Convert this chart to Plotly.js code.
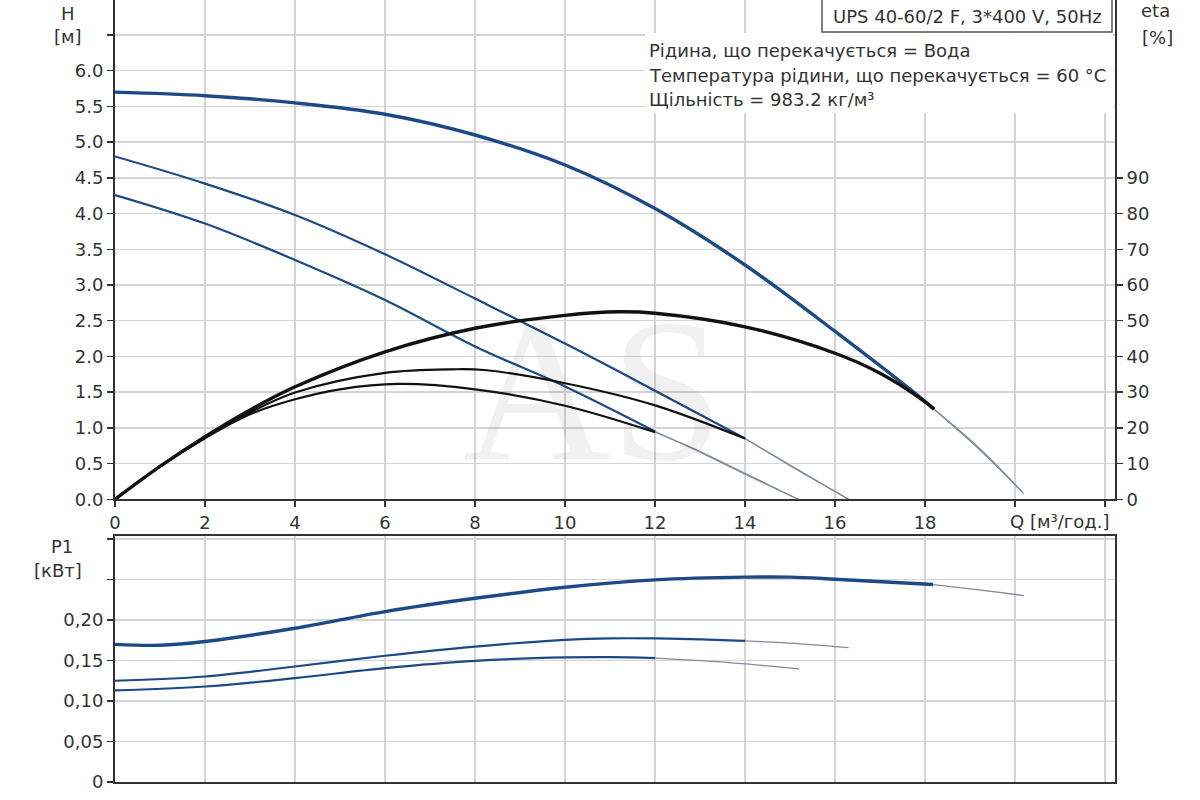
<!DOCTYPE html>
<html><head><meta charset="utf-8">
<script src="https://cdn.plot.ly/plotly-3.0.1.min.js"></script>
<style>html,body{margin:0;padding:0;background:#fff}#chart{width:1200px;height:800px}</style>
</head><body><div id="chart"></div>
<script>
// ---- Head curves H [м] vs Q [м³/год.] ----
const q_h1 = [0, 2, 4, 6, 8, 10, 12, 14, 16, 18, 18.2];
const h1   = [5.70, 5.65, 5.55, 5.39, 5.10, 4.68, 4.07, 3.28, 2.35, 1.37, 1.26];
const q_h1x = [18.2, 19.2, 20.19];
const h1x   = [1.26, 0.70, 0.08];

const q_h2 = [0, 2, 4, 6, 8, 10, 12, 14];
const h2   = [4.80, 4.42, 3.98, 3.43, 2.81, 2.18, 1.52, 0.85];
const q_h2x = [14, 15, 16.3];
const h2x   = [0.85, 0.47, 0];

const q_h3 = [0, 2, 4, 6, 8, 10, 12];
const h3   = [4.26, 3.86, 3.35, 2.79, 2.14, 1.58, 0.95];
const q_h3x = [12, 13, 14, 15.18];
const h3x   = [0.95, 0.66, 0.35, 0];

// ---- Efficiency curves eta [%] ----
const q_e1 = [0, 1, 2, 3, 4, 6, 8, 10, 11.2, 12, 14, 16, 17, 18, 18.2];
const e1   = [0, 9.2, 17.5, 25.0, 31.5, 41.3, 47.9, 51.5, 52.5, 52.1, 48.3, 40.9, 35.3, 27.3, 25.2];
const q_e1x = [18.2, 19.2, 20.15];
const e1x   = [25.2, 14.4, 2.2];

const q_e2 = [0, 1, 2, 3, 4, 6, 7.5, 8.2, 10, 12, 14];
const e2   = [0, 9.2, 17.3, 24.3, 29.9, 35.4, 36.4, 36.2, 32.5, 26.3, 17.0];
const q_e2x = [14, 15, 16.3];
const e2x   = [17.0, 9.6, 0];

const q_e3 = [0, 1, 2, 3, 4, 5, 6.3, 8, 10, 12];
const e3   = [0, 9.2, 17.1, 23.8, 28.0, 30.8, 32.3, 30.8, 26.2, 18.8];
const q_e3x = [12, 13, 14, 15.18];
const e3x   = [18.8, 13.4, 7.3, 0];

// ---- Power curves P1 [кВт] ----
const q_p1 = [0, 1, 2, 4, 6, 8, 10, 12, 14, 15, 16, 18.18];
const p1   = [0.170, 0.169, 0.1736, 0.190, 0.2106, 0.227, 0.2407, 0.2497, 0.2531, 0.2531, 0.2506, 0.2440];
const q_p1x = [18.18, 19.2, 20.2];
const p1x   = [0.2440, 0.2375, 0.2304];

const q_p2 = [0, 2, 4, 6, 8, 10, 11, 12, 14];
const p2   = [0.1251, 0.1304, 0.1427, 0.156, 0.1674, 0.1757, 0.1775, 0.1774, 0.1744];
const q_p2x = [14, 15, 16.3];
const p2x   = [0.1744, 0.1715, 0.166];

const q_p3 = [0, 2, 4, 6, 8, 10, 11, 12];
const p3   = [0.1131, 0.118, 0.1284, 0.1407, 0.1497, 0.1539, 0.1543, 0.1531];
const q_p3x = [12, 13, 14, 15.2];
const p3x   = [0.1531, 0.150, 0.146, 0.1399];

// ---- Ticks ----
const xTickVals = [0, 2, 4, 6, 8, 10, 12, 14, 16, 18, 20, 22];
const xTickText = ['0', '2', '4', '6', '8', '10', '12', '14', '16', '18', '', ''];
const hTickVals = [0, 0.5, 1, 1.5, 2, 2.5, 3, 3.5, 4, 4.5, 5, 5.5, 6, 6.5, 7];
const hTickText = ['0.0','0.5','1.0','1.5','2.0','2.5','3.0','3.5','4.0','4.5','5.0','5.5','6.0','',''];
const etaTickVals = [0, 10, 20, 30, 40, 50, 60, 70, 80, 90];
const etaTickText = ['0','10','20','30','40','50','60','70','80','90'];
const pTickVals = [0, 0.05, 0.10, 0.15, 0.20, 0.25, 0.30];
const pTickText = ['0', '0,05', '0,10', '0,15', '0,20', '', ''];

const titleText = 'UPS 40-60/2 F, 3*400 V, 50Hz';
const infoLines = ['Рідина, що перекачується = Вода',
                   'Температура рідини, що перекачується = 60 °C',
                   'Щільність = 983.2 кг/м³'];

const BLUE = '#1c4a86', BLACK = '#111111', THIN = '#7f8a9c';
const FONT = 'DejaVu Sans';

function tr(x, y, xa, ya, color, width) {
  return {x: x, y: y, xaxis: xa, yaxis: ya, type: 'scatter', mode: 'lines',
          line: {color: color, width: width, shape: 'spline', smoothing: 1},
          hoverinfo: 'skip', showlegend: false};
}

const data = [
  tr(q_h1x, h1x, 'x', 'y', THIN, 1.2),
  tr(q_h2x, h2x, 'x', 'y', THIN, 1.2),
  tr(q_h3x, h3x, 'x', 'y', THIN, 1.2),
  tr(q_e1x, e1x, 'x', 'y2', THIN, 1.2),
  tr(q_e2x, e2x, 'x', 'y2', THIN, 1.2),
  tr(q_e3x, e3x, 'x', 'y2', THIN, 1.2),
  tr(q_h2, h2, 'x', 'y', BLUE, 2.2),
  tr(q_h3, h3, 'x', 'y', BLUE, 2.2),
  tr(q_e2, e2, 'x', 'y2', BLACK, 2.2),
  tr(q_e3, e3, 'x', 'y2', BLACK, 2.2),
  tr(q_e1, e1, 'x', 'y2', BLACK, 3.4),
  tr(q_h1, h1, 'x', 'y', BLUE, 3.4),
  tr(q_p1x, p1x, 'x2', 'y3', THIN, 1.3),
  tr(q_p2x, p2x, 'x2', 'y3', THIN, 1.3),
  tr(q_p3x, p3x, 'x2', 'y3', THIN, 1.3),
  tr(q_p1, p1, 'x2', 'y3', BLUE, 3.4),
  tr(q_p2, p2, 'x2', 'y3', BLUE, 2.2),
  tr(q_p3, p3, 'x2', 'y3', BLUE, 2.2)
];

const tickFont = {family: FONT, size: 18, color: '#333'};
const common = {showline: true, linecolor: '#333', linewidth: 2, ticks: 'outside',
  ticklen: 6, tickwidth: 1.5, tickcolor: '#333', zeroline: false, tickfont: tickFont,
  gridcolor: '#d4d4d4', gridwidth: 1.5, fixedrange: true};

// pixel helpers (plot area: x 115..1115, y 0..782)
const px = v => (v - 115) / 1000;
const py = v => (782 - v) / 782;

function lab(text, x, y, xanchor) {
  return {text: text, xref: 'paper', yref: 'paper', x: px(x), y: py(y),
          xanchor: xanchor || 'center', yanchor: 'middle', showarrow: false,
          font: {family: FONT, size: 18, color: '#333'}};
}

const annotations = [
  {text: 'AS', xref: 'paper', yref: 'paper', x: px(593), y: py(390), xanchor: 'center', yanchor: 'middle',
   showarrow: false, font: {family: 'Liberation Serif', size: 204, color: 'rgba(0,0,0,0.055)'}},
  lab('H', 68, 13), lab('[м]', 68, 36),
  lab('eta', 1155, 11), lab('[%]', 1157, 38),
  lab('P1', 62, 546), lab('[кВт]', 58, 570),
  lab('Q [м³/год.]', 1008, 521, 'left'),
  lab(titleText, 967, 16),
  lab(infoLines[0], 647, 51, 'left'),
  lab(infoLines[1], 647, 75, 'left'),
  lab(infoLines[2], 647, 99, 'left')
];

const shapes = [
  {type: 'rect', xref: 'paper', yref: 'paper', x0: px(645), x1: px(1113), y0: py(113), y1: py(33),
   line: {width: 0}, fillcolor: '#ffffff', layer: 'above'},
  {type: 'rect', xref: 'paper', yref: 'paper', x0: px(822), x1: px(1112), y0: py(32), y1: py(-2),
   line: {color: '#555', width: 1.5}, fillcolor: '#ffffff', layer: 'above'}
];

const layout = {
  width: 1200, height: 800,
  margin: {l: 115, r: 85, t: 0, b: 18, pad: 0},
  paper_bgcolor: '#ffffff', plot_bgcolor: '#ffffff',
  showlegend: false,
  xaxis: Object.assign({}, common, {domain: [0, 1], anchor: 'y', range: [0, 22.22],
    tickvals: xTickVals, ticktext: xTickText, showgrid: true}),
  yaxis: Object.assign({}, common, {domain: [0.3615, 1], anchor: 'x', range: [0, 6.99],
    tickvals: hTickVals, ticktext: hTickText, showgrid: true}),
  yaxis2: Object.assign({}, common, {overlaying: 'y', side: 'right', anchor: 'x', range: [0, 139.8],
    tickvals: etaTickVals, ticktext: etaTickText, showgrid: false}),
  xaxis2: Object.assign({}, common, {domain: [0, 1], anchor: 'y3', range: [0, 22.22],
    tickvals: xTickVals, ticktext: xTickVals.map(() => ''), showgrid: true, mirror: true, ticks: ''}),
  yaxis3: Object.assign({}, common, {domain: [0, 0.3146], anchor: 'x2', range: [0, 0.304],
    tickvals: pTickVals, ticktext: pTickText, showgrid: true, mirror: true}),
  annotations: annotations,
  shapes: shapes
};

Plotly.newPlot('chart', data, layout, {displayModeBar: false, staticPlot: true});
</script>
</body></html>
